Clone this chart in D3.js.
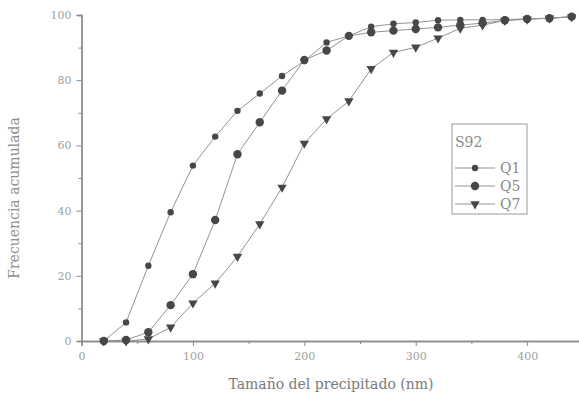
<!DOCTYPE html>
<html><head><meta charset="utf-8">
<script src="https://cdn.jsdelivr.net/npm/d3@7"></script>
<style>body{margin:0;background:#fff}svg{display:block}</style>
</head><body>
<script>
const sizes = [20,40,60,80,100,120,140,160,180,200,220,240,260,280,300,320,340,360,380,400,420,440];
const q1 = [0,5.7,23.1,39.5,53.8,62.7,70.6,75.9,81.3,85.9,91.6,93.6,96.4,97.3,97.7,98.4,98.5,98.5,98.6,98.8,99.0,99.5];
const q5 = [0,0.3,2.7,11,20.5,37.1,57.3,67.1,76.8,86.2,89.1,93.6,94.7,95.2,95.7,96.2,96.9,97.5,98.4,98.8,99.0,99.5];
const q7 = [0,0,0.6,4.2,11.6,17.7,25.9,35.9,47.1,60.6,68.1,73.6,83.5,88.5,90.1,92.9,95.9,96.9,98.3,98.7,99.0,99.4];
const xTicks = [0,100,200,300,400];
const yTicks = [0,20,40,60,80,100];
const seriesNames = ["Q1","Q5","Q7"];
const legendTitle = "S92";

const W=579,H=395;
const svg=d3.select("body").append("svg").attr("width",W).attr("height",H);
const x=d3.scaleLinear().domain([0,447]).range([81.5,579.5]);
const y=d3.scaleLinear().domain([0,100]).range([341,15]);
const axisCol="#8a8a8a", textCol="#a0a0a0", lineCol="#939393", markCol="#474747";
const font="'DejaVu Serif', 'Liberation Serif', serif";

// X axis
const gx=svg.append("g").attr("transform",`translate(0,${y(0)})`);
gx.call(d3.axisBottom(x).tickValues(xTicks).tickSize(5).tickPadding(6).tickFormat(d3.format("d")));
gx.append("g").call(d3.axisBottom(x).tickValues([50,150,250,350]).tickSize(3).tickFormat(""));
// Y axis
const gy=svg.append("g").attr("transform",`translate(${x(0)},0)`);
gy.call(d3.axisLeft(y).tickValues(yTicks).tickSize(5).tickPadding(5).tickFormat(d3.format("d")));
gy.append("g").call(d3.axisLeft(y).tickValues([10,30,50,70,90]).tickSize(3).tickFormat(""));
svg.selectAll(".domain").attr("stroke",axisCol).attr("stroke-width",1.3);
svg.selectAll(".tick line").attr("stroke",axisCol);
svg.selectAll(".tick text").attr("fill",textCol).style("font-family",font).style("font-size","11px");

// Axis titles
svg.append("text").attr("x",331).attr("y",389).attr("text-anchor","middle")
  .attr("fill","#7a7a7a").style("font-family",font).style("font-size","14px").text("Tamaño del precipitado (nm)");
svg.append("text").attr("transform","translate(19,198) rotate(-90)").attr("text-anchor","middle")
  .attr("fill","#8e8e8e").style("font-family",font).style("font-size","14px").text("Frecuencia acumulada");

const data=[q1,q5,q7];
const line=d3.line().x((d,i)=>x(sizes[i])).y(d=>y(d));
data.forEach(s=>{
  svg.append("path").datum(s).attr("d",line).attr("fill","none").attr("stroke",lineCol).attr("stroke-width",1);
});
function marker(g,k,cx,cy){
  if(k===0) g.append("circle").attr("cx",cx).attr("cy",cy).attr("r",3.2).attr("fill",markCol);
  else if(k===1) g.append("circle").attr("cx",cx).attr("cy",cy).attr("r",4.2).attr("fill",markCol);
  else g.append("path").attr("transform",`translate(${cx},${cy}) rotate(180)`)
        .attr("d",d3.symbol(d3.symbolTriangle,38)()).attr("fill",markCol);
}
data.forEach((s,k)=>{
  const g=svg.append("g");
  s.forEach((v,i)=>marker(g,k,x(sizes[i]),y(v)));
});

// Legend
const lg=svg.append("g");
lg.append("rect").attr("x",452).attr("y",124).attr("width",75).attr("height",90)
  .attr("fill","#fff").attr("stroke","#999").attr("stroke-width",1);
lg.append("text").attr("x",455).attr("y",147).attr("fill","#8a8a8a").style("font-family",font).style("font-size","14px").text(legendTitle);
seriesNames.forEach((n,k)=>{
  const yy=168+k*18;
  lg.append("line").attr("x1",455).attr("x2",495).attr("y1",yy).attr("y2",yy).attr("stroke",lineCol);
  marker(lg,k,475,yy);
  lg.append("text").attr("x",500).attr("y",yy+5).attr("fill","#888").style("font-family",font).style("font-size","14px").text(n);
});
</script>
</body></html>
